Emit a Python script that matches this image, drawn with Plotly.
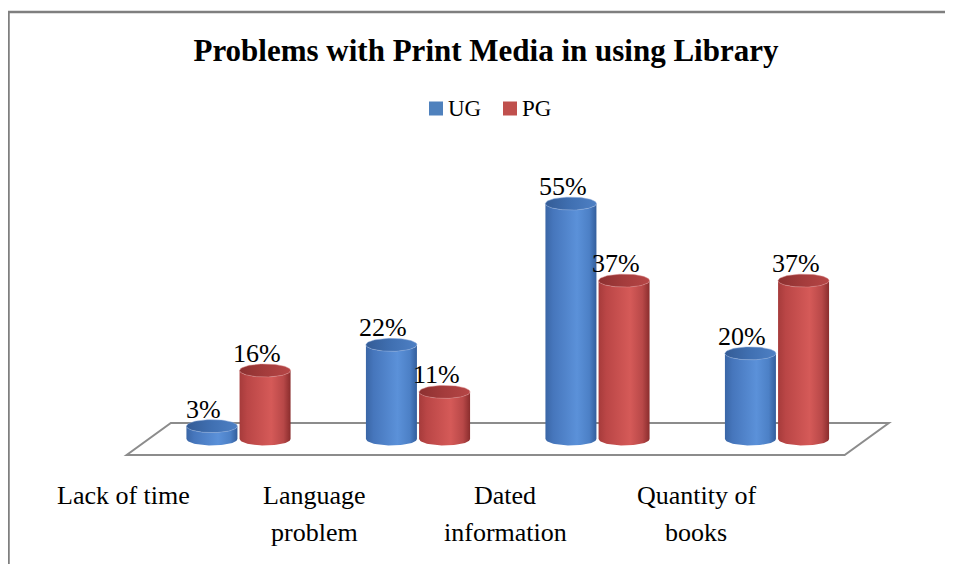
import numpy as np
import plotly.graph_objects as go

# ---------------- data ----------------
categories = ["Lack of time", "Language\nproblem", "Dated\ninformation", "Quantity of\nbooks"]
series_names = ["UG", "PG"]
ug_values = [3, 22, 55, 20]
pg_values = [16, 11, 37, 37]
title_text = "Problems with Print Media in using Library"

# ---------------- styling / geometry ----------------
PAGE_OFF = 8                # default body margin of the html page
W, H = 953 - PAGE_OFF, 564 - PAGE_OFF
FONT = "Liberation Serif"
PX_PER_CAT = 179.5          # pixels per category unit on x
X0_PX = 238.5 - PAGE_OFF    # pixel of category 0
PX_PER_PCT = 4.28           # pixels per percent on y
Y0_PX = 439 - PAGE_OFF      # pixel of value 0


def px(p):
    return (p - PAGE_OFF) / W


def py(p):
    return 1 - (p - PAGE_OFF) / H


x_range = [-X0_PX / PX_PER_CAT, (W - X0_PX) / PX_PER_CAT]
y_range = [-(H - Y0_PX) / PX_PER_PCT, Y0_PX / PX_PER_PCT]

half_w = 25.5 / PX_PER_CAT      # cylinder radius (x units)
ell_b = 6.5 / PX_PER_PCT        # ellipse semi-minor (y units)
offsets = [-0.148, 0.148]

body_scales = [
    [[0, "#3A66A6"], [0.15, "#4676BC"], [0.62, "#5B91D9"], [0.86, "#4C80C6"], [1, "#335E9C"]],
    [[0, "#A63B3B"], [0.15, "#BA4646"], [0.62, "#D55A58"], [0.86, "#B84848"], [1, "#8A2D2D"]],
]
top_scales = [
    [[0, "#345C96"], [0.5, "#4070B2"], [1, "#4E80C4"]],
    [[0, "#8C3030"], [0.5, "#A43C3C"], [1, "#B64646"]],
]
legend_colors = ["#4F81BD", "#C0504D"]

fig = go.Figure()

t_half = np.linspace(0, np.pi, 40)
t_full = np.linspace(0, 2 * np.pi, 80)

for s, values in enumerate([ug_values, pg_values]):
    for i, v in enumerate(values):
        cx = i + offsets[s]
        xs = [cx - half_w, cx - half_w]
        ys = [0, v]
        xs += list(cx - half_w * np.cos(t_half))
        ys += list(v - ell_b * np.sin(t_half))
        xs += [cx + half_w]
        ys += [0]
        xs += list(cx + half_w * np.cos(t_half))
        ys += list(0 - ell_b * np.sin(t_half))
        fig.add_trace(go.Scatter(
            x=xs, y=ys, mode="lines", fill="toself",
            fillgradient=dict(type="horizontal", colorscale=body_scales[s]),
            line=dict(width=0), hoverinfo="skip", showlegend=False))
        fig.add_trace(go.Scatter(
            x=list(cx + half_w * np.cos(t_full)),
            y=list(v + ell_b * np.sin(t_full)),
            mode="lines", fill="toself",
            fillgradient=dict(type="horizontal", colorscale=top_scales[s]),
            line=dict(width=0.8, color="rgba(140,170,220,0.6)" if s == 0 else "rgba(220,140,140,0.6)"),
            hoverinfo="skip", showlegend=False))

annotations = []
# value labels
for s, values in enumerate([ug_values, pg_values]):
    for i, v in enumerate(values):
        annotations.append(dict(
            x=i + offsets[s] - 8 / PX_PER_CAT, y=v + ell_b, xref="x", yref="y",
            text=f"{v}%", showarrow=False, yanchor="bottom", xanchor="center",
            yshift=-6,
            font=dict(family=FONT, size=26, color="black")))

# category labels (perspective-shifted along the front edge)
LABEL_X0_PX, LABEL_STEP_PX = 123, 191
line_centers_px = [495, 532]
for i, cat in enumerate(categories):
    cxp = LABEL_X0_PX + LABEL_STEP_PX * i
    for k, line in enumerate(cat.split("\n")):
        annotations.append(dict(
            x=px(cxp), y=py(line_centers_px[k]), xref="paper", yref="paper",
            text=line, showarrow=False, xanchor="center", yanchor="middle",
            font=dict(family=FONT, size=26, color="black")))

# custom legend (square swatch + name)
legend_sq_left = [429, 503]
shapes = []
for s, name in enumerate(series_names):
    x_l = legend_sq_left[s]
    shapes.append(dict(type="rect", xref="paper", yref="paper",
                       x0=px(x_l), x1=px(x_l + 14), y0=py(115.5), y1=py(101.5),
                       fillcolor=legend_colors[s],
                       line=dict(color="#FFFFFF", width=0)))
    annotations.append(dict(x=px(x_l + 17), y=py(109), xref="paper", yref="paper",
                            text=name, showarrow=False, xanchor="left", yanchor="middle",
                            font=dict(family=FONT, size=23, color="black")))

# floor parallelogram (data coords, spanning the category band)
n = len(categories)
skew = 0.123
depth = 3.74
floor_path = (f"M {-0.5 + skew},{depth} L {n - 0.5 + skew},{depth} "
              f"L {n - 0.5 - skew},{-depth} L {-0.5 - skew},{-depth} Z")
shapes += [
    dict(type="path", path=floor_path, xref="x", yref="y", layer="below",
         line=dict(color="#8C8C8C", width=2), fillcolor="rgba(0,0,0,0)"),
    dict(type="path", xref="paper", yref="paper", layer="above",
         path=f"M {px(8.5)},-0.02 L {px(8.5)},{py(12)} L 1.02,{py(12)}",
         line=dict(color="#7F7F7F", width=2.5)),
]

fig.update_layout(
    width=W, height=H,
    margin=dict(l=0, r=0, t=0, b=0),
    paper_bgcolor="white", plot_bgcolor="white",
    title=dict(text=f"<b>{title_text}</b>", x=px(486), xanchor="center",
               y=py(50), yanchor="middle",
               font=dict(family=FONT, size=31, color="black")),
    xaxis=dict(range=x_range, visible=False, fixedrange=True),
    yaxis=dict(range=y_range, visible=False, fixedrange=True),
    annotations=annotations,
    shapes=shapes,
    showlegend=False,
)

fig.write_html("out.html")
